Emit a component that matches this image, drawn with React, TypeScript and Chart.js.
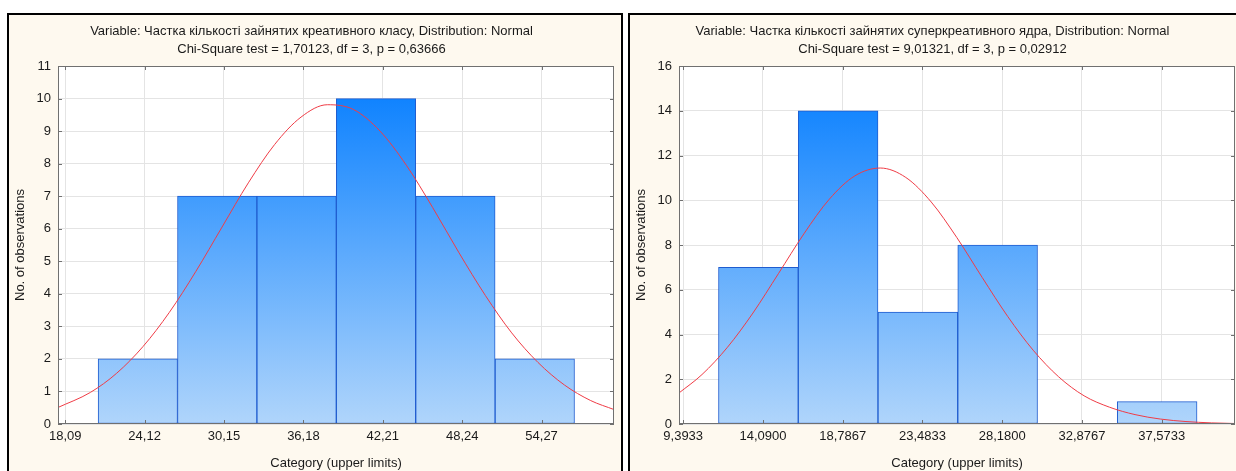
import React, { useEffect, useRef } from "react";
import { Chart, registerables } from "chart.js";

Chart.register(...registerables);

const FONT = '"Liberation Sans", Arial, sans-serif';
const TEXT = "#1a1a1a";

// ---------- Left histogram ----------
const leftTitle = [
  "Variable: Частка кількості зайнятих креативного класу, Distribution: Normal",
  "Chi-Square test = 1,70123, df = 3, p = 0,63666",
];
const leftTickValues = [18.09, 24.12, 30.15, 36.18, 42.21, 48.24, 54.27];
const leftTickLabels = ["18,09", "24,12", "30,15", "36,18", "42,21", "48,24", "54,27"];
const leftBinCenters = [23.605, 29.635, 35.665, 41.695, 47.725, 53.755];
const leftCounts = [2, 7, 7, 10, 7, 2];
const leftCurveX = [17.5, 20, 22, 24, 26, 28, 30, 32, 34, 36, 38, 40, 42, 44, 46, 48, 50, 52, 54, 56, 58, 59.8];
const leftCurveY = [0.5, 0.97, 1.56, 2.38, 3.43, 4.68, 6.05, 7.41, 8.59, 9.43, 9.81, 9.66, 9.0, 7.95, 6.65, 5.26, 3.95, 2.8, 1.89, 1.2, 0.72, 0.44];
const leftXMin = 17.543;
const leftXMax = 59.77;
const leftYMax = 11;
const leftYStep = 1;

// ---------- Right histogram ----------
const rightTitle = [
  "Variable: Частка кількості зайнятих суперкреативного ядра, Distribution: Normal",
  "Chi-Square test = 9,01321, df = 3, p = 0,02912",
];
const rightTickValues = [9.3933, 14.09, 18.7867, 23.4833, 28.18, 32.8767, 37.5733];
const rightTickLabels = ["9,3933", "14,0900", "18,7867", "23,4833", "28,1800", "32,8767", "37,5733"];
const rightBinCenters = [13.82, 18.516, 23.213, 27.91, 32.606, 37.303];
const rightCounts = [7, 14, 5, 8, 0, 1];
const rightCurveX = [9.1, 10.5, 12, 13.5, 15, 16.5, 18, 19.5, 21, 22.5, 24, 25.5, 27, 28.5, 30, 31.5, 33, 34.5, 36, 37.5, 39, 40.5, 42];
const rightCurveY = [1.36, 2.21, 3.43, 4.96, 6.72, 8.5, 10.05, 11.09, 11.44, 11.02, 9.92, 8.34, 6.55, 4.81, 3.3, 2.11, 1.26, 0.75, 0.42, 0.22, 0.11, 0.05, 0.02];
const rightXMin = 9.146;
const rightXMax = 41.887;
const rightYMax = 16;
const rightYStep = 2;

const xTitle = "Category (upper limits)";
const yTitle = "No. of observations";

type HistProps = {
  title: string[];
  tickValues: number[];
  tickLabels: string[];
  centers: number[];
  counts: number[];
  curveX: number[];
  curveY: number[];
  xMin: number;
  xMax: number;
  yMax: number;
  yStep: number;
};

const CW = 612;
const CH = 470;

function Histogram(p: HistProps) {
  const ref = useRef<HTMLCanvasElement>(null);
  useEffect(() => {
    const canvas = ref.current!;
    const frame = {
      id: "frame",
      beforeDraw(chart: any) {
        const { ctx, chartArea: a } = chart;
        ctx.save();
        ctx.fillStyle = "#ffffff";
        ctx.fillRect(a.left, a.top, a.right - a.left, a.bottom - a.top);
        ctx.restore();
      },
      afterDatasetsDraw(chart: any) {
        const { ctx, chartArea: a } = chart;
        const xs = chart.scales.x;
        const ys = chart.scales.y;
        ctx.save();
        ctx.strokeStyle = "#707070";
        ctx.lineWidth = 1;
        ctx.strokeRect(a.left + 0.5, a.top + 0.5, a.right - a.left - 1, a.bottom - a.top - 1);
        ctx.beginPath();
        xs.ticks.forEach((t: any) => {
          const px = Math.round(xs.getPixelForValue(t.value)) + 0.5;
          ctx.moveTo(px, a.bottom);
          ctx.lineTo(px, a.bottom - 4);
          ctx.moveTo(px, a.top);
          ctx.lineTo(px, a.top + 4);
        });
        ys.ticks.forEach((t: any) => {
          const py = Math.round(ys.getPixelForValue(t.value)) + 0.5;
          ctx.moveTo(a.left, py);
          ctx.lineTo(a.left + 4, py);
          ctx.moveTo(a.right, py);
          ctx.lineTo(a.right - 4, py);
        });
        ctx.stroke();
        ctx.restore();
      },
    };

    const chart = new Chart(canvas, {
      type: "bar",
      data: {
        datasets: [
          {
            type: "line",
            data: p.curveX.map((x, i) => ({ x, y: p.curveY[i] })),
            borderColor: "rgb(240,60,70)",
            borderWidth: 1,
            pointRadius: 0,
            fill: false,
            cubicInterpolationMode: "monotone",
            order: 0,
          } as any,
          {
            type: "bar",
            data: p.centers.map((x, i) => ({ x, y: p.counts[i] })),
            backgroundColor: (c: any) => {
              const a = c.chart.chartArea;
              if (!a) return "#5aa8fb";
              const g = c.chart.ctx.createLinearGradient(0, a.top, 0, a.bottom);
              g.addColorStop(0, "#007bff");
              g.addColorStop(1, "#b0d5fb");
              return g;
            },
            borderColor: "#1f5ccf",
            borderWidth: 1,
            borderSkipped: false,
            barPercentage: 1,
            categoryPercentage: 1,
            order: 1,
          } as any,
        ],
      },
      options: {
        animation: false,
        responsive: false,
        maintainAspectRatio: false,
        layout: { padding: { left: 0, right: 7, top: 0, bottom: 0 } },
        plugins: {
          legend: { display: false },
          tooltip: { enabled: false },
          title: {
            display: true,
            text: p.title,
            color: TEXT,
            font: { family: FONT, size: 13, lineHeight: 18 / 13, weight: "normal" },
            padding: { top: 7, bottom: 8 },
          },
        },
        scales: {
          x: {
            type: "linear",
            min: p.xMin,
            max: p.xMax,
            offset: false,
            afterBuildTicks: (s: any) => {
              s.ticks = p.tickValues.map((v) => ({ value: v }));
            },
            afterFit: (s: any) => {
              s.height = 61;
            },
            ticks: {
              autoSkip: false,
              maxRotation: 0,
              minRotation: 0,
              padding: 5,
              color: TEXT,
              font: { family: FONT, size: 13 },
              callback: (_v: any, i: number) => p.tickLabels[i],
            },
            grid: { color: "#e4e4e4", drawTicks: false, offset: false },
            border: { display: false },
            title: {
              display: true,
              text: xTitle,
              color: TEXT,
              font: { family: FONT, size: 13 },
              padding: { top: 0, bottom: 14 },
            },
          },
          y: {
            type: "linear",
            min: 0,
            max: p.yMax,
            afterFit: (s: any) => {
              s.width = 49;
            },
            ticks: {
              stepSize: p.yStep,
              padding: 7,
              color: TEXT,
              font: { family: FONT, size: 13 },
            },
            grid: { color: "#e4e4e4", drawTicks: false },
            border: { display: false },
            title: {
              display: true,
              text: yTitle,
              color: TEXT,
              font: { family: FONT, size: 13 },
              padding: { top: 4, bottom: 0 },
            },
          },
        },
      } as any,
      plugins: [frame],
    });
    return () => chart.destroy();
  }, [p]);
  return <canvas ref={ref} width={CW} height={CH} style={{ display: "block", width: CW, height: CH }} />;
}

const leftProps: HistProps = {
  title: leftTitle,
  tickValues: leftTickValues,
  tickLabels: leftTickLabels,
  centers: leftBinCenters,
  counts: leftCounts,
  curveX: leftCurveX,
  curveY: leftCurveY,
  xMin: leftXMin,
  xMax: leftXMax,
  yMax: leftYMax,
  yStep: leftYStep,
};

const rightProps: HistProps = {
  title: rightTitle,
  tickValues: rightTickValues,
  tickLabels: rightTickLabels,
  centers: rightBinCenters,
  counts: rightCounts,
  curveX: rightCurveX,
  curveY: rightCurveY,
  xMin: rightXMin,
  xMax: rightXMax,
  yMax: rightYMax,
  yStep: rightYStep,
};

const panelStyle = (left: number): React.CSSProperties => ({
  position: "absolute",
  left,
  top: 13,
  width: CW,
  height: 480,
  border: "2px solid #000",
  background: "#fef9ef",
  overflow: "hidden",
});

export default function App() {
  return (
    <div
      style={{
        position: "absolute",
        left: 0,
        top: 0,
        width: 1236,
        height: 471,
        overflow: "hidden",
        background: "#ffffff",
      }}
    >
      <div style={panelStyle(7)}>
        <Histogram {...leftProps} />
      </div>
      <div style={panelStyle(628)}>
        <Histogram {...rightProps} />
      </div>
    </div>
  );
}
